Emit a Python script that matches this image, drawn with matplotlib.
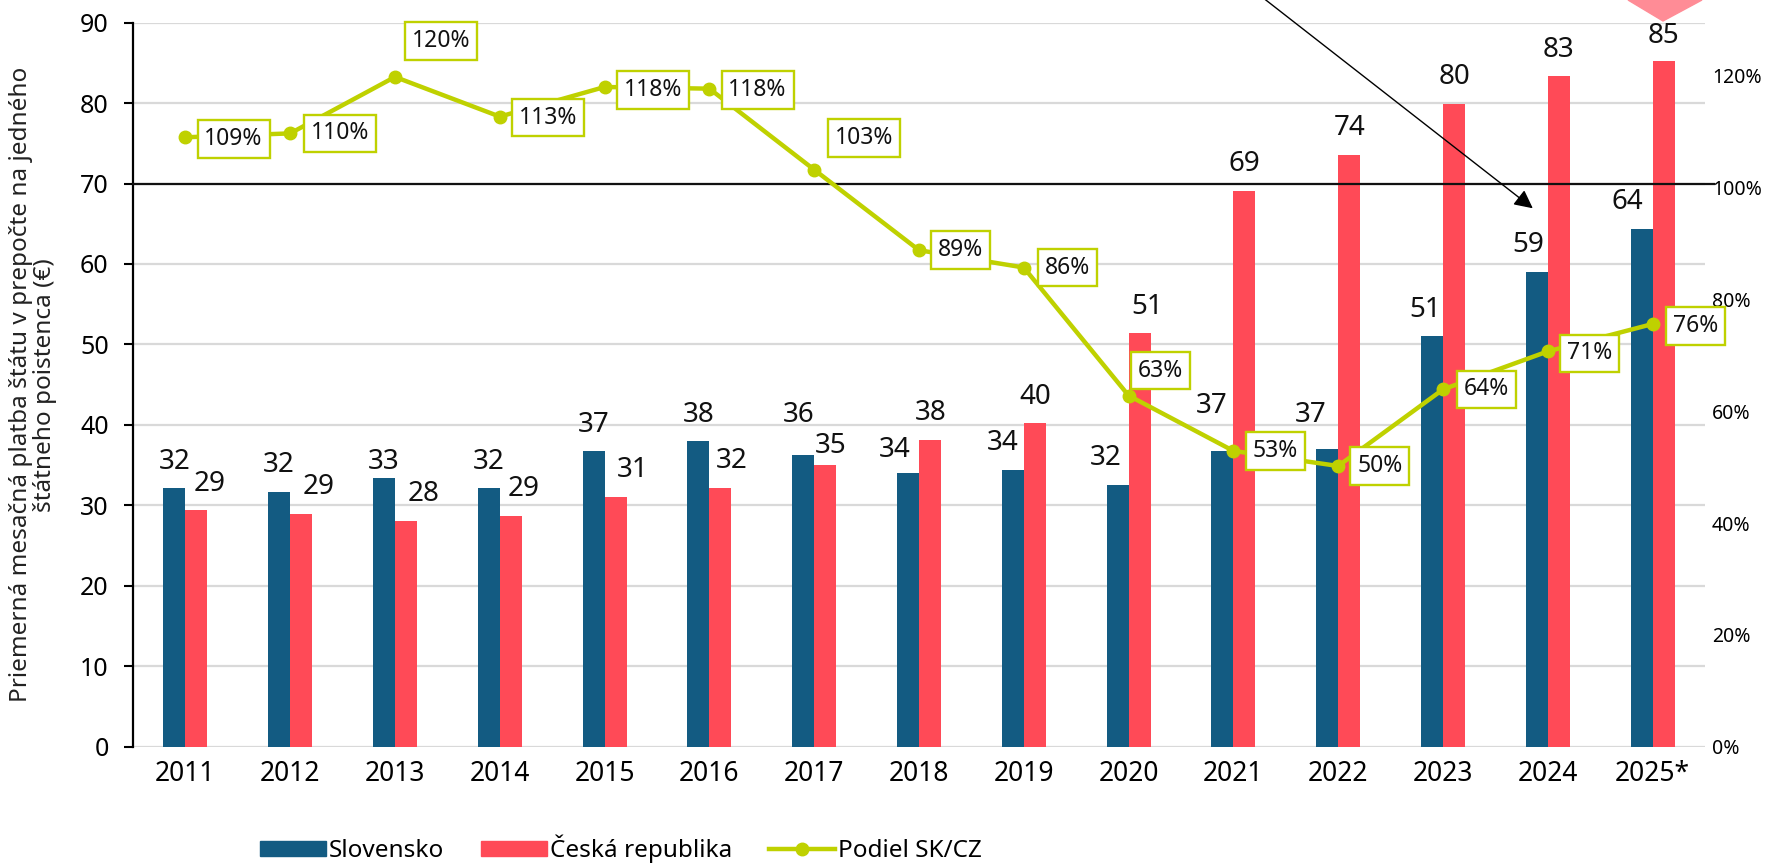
import matplotlib
matplotlib.use("Agg")
import matplotlib.pyplot as plt
from matplotlib.patches import Patch, Polygon
from matplotlib.lines import Line2D
import numpy as np

plt.rcParams['font.family'] = ['Noto Sans', 'DejaVu Sans']

# data
years = ["2011", "2012", "2013", "2014", "2015", "2016", "2017", "2018",
         "2019", "2020", "2021", "2022", "2023", "2024", "2025*"]
slovensko = [32.2, 31.6, 33.4, 32.2, 36.75, 38.0, 36.25, 34.0, 34.4, 32.5,
             36.7, 37.0, 51.05, 59.05, 64.4]
cesko = [29.45, 28.9, 28.0, 28.7, 31.0, 32.2, 35.0, 38.1, 40.2, 51.4,
         69.1, 73.55, 79.9, 83.4, 85.2]
podiel = [1.09, 1.097, 1.198, 1.127, 1.18, 1.177, 1.032, 0.888, 0.857, 0.628,
          0.529, 0.502, 0.639, 0.707, 0.756]
left_ticks = [0, 10, 20, 30, 40, 50, 60, 70, 80, 90]
right_ticks = [0, 0.2, 0.4, 0.6, 0.8, 1.0, 1.2]

# label placement (pixels), the original labels were moved by hand
sk_dx = [0, 0, 0, 0, 0, 0, -5, -13, -10, -12, -11, -17, -7, -9, -14]
sk_dy = [26, 27, 16, 26, 26, 26, 40, 23, 27, 27, 45, 34, 26, 27, 27]
cz_dx = [13, 17, 18, 13, 17, 11, 5, 1, 0, 8, 0, 0, 0, 0, 0]
cz_dy = [26, 27, 27, 27, 27, 27, 19, 27, 26, 26, 27, 27, 27, 26, 25]
pod_dx = [13, 15, 11, 13, 13, 13, 15, 13, 15, 3, 13, 13, 15, 13, 14]
pod_dy = [-2, 0, 36, -1, -3, -1, 32, 0, 0, 25, 0, 0, 0, -2, -2]

BLUE = '#135B82'
RED = '#FF4A57'
GREEN = '#BFD100'
GRID = '#D9D9D9'

W, H = 1779, 865
fig = plt.figure(figsize=(W / 100, H / 100), dpi=100)
ax = fig.add_axes([133 / W, (H - 746.6) / H, (1705 - 133) / W, 723.9 / H])

x = np.arange(len(years))
bw = 0.21
ax.bar(x - bw / 2, slovensko, bw, color=BLUE, zorder=2)
ax.bar(x + bw / 2, cesko, bw, color=RED, zorder=2)

for i in range(len(years)):
    ax.annotate(f"{slovensko[i]:.0f}", (x[i] - bw / 2, slovensko[i]),
                xytext=(sk_dx[i], sk_dy[i]), textcoords='offset pixels',
                ha='center', va='center', fontsize=20, color='#111111', zorder=4)
    ax.annotate(f"{cesko[i]:.0f}", (x[i] + bw / 2, cesko[i]),
                xytext=(cz_dx[i], cz_dy[i]), textcoords='offset pixels',
                ha='center', va='center', fontsize=20, color='#111111', zorder=4)

ax.set_xlim(-0.5, len(years) - 0.5)
ax.set_ylim(0, 90)
ax.set_yticks(left_ticks)
ax.set_xticks(x)
ax.set_xticklabels(years)
ax.tick_params(axis='y', labelsize=18, length=6.5, width=1.5, pad=11, color='black')
ax.tick_params(axis='x', labelsize=19, length=0, pad=10)
ax.grid(axis='y', color=GRID, lw=1.6, zorder=0)
ax.set_axisbelow(True)
for s in ['top', 'right', 'bottom']:
    ax.spines[s].set_visible(False)
ax.spines['left'].set_linewidth(1.6)

# black reference line at 100 %
ax.plot([0, 1.006], [70, 70], color='#111111', lw=1.6,
        transform=ax.get_yaxis_transform(), clip_on=False, zorder=3)

# share on secondary axis
ax2 = ax.twinx()
ax2.set_ylim(0, 1.295)
ax2.set_yticks(right_ticks)
ax2.set_yticklabels([f"{t * 100:.0f}%" for t in right_ticks])
ax2.tick_params(axis='y', labelsize=14, length=0, pad=5)
for s in ax2.spines.values():
    s.set_visible(False)
ax2.plot(x, podiel, color=GREEN, lw=3.2, marker='o', markersize=9, zorder=5)
for i in range(len(years)):
    ax2.annotate(f"{podiel[i] * 100:.0f}%", (x[i], podiel[i]),
                 xytext=(pod_dx[i] + 6, pod_dy[i]), textcoords='offset pixels',
                 ha='left', va='center', fontsize=16.5, color='#111111', zorder=6,
                 bbox=dict(boxstyle='square,pad=0.3', fc='white', ec=GREEN, lw=1.7))

fig.text(33 / W, 1 - 384.7 / H,
         "Priemerná mesačná platba štátu v prepočte na jedného\nštátneho poistenca (€)",
         rotation=90, ha='center', va='center', multialignment='center',
         fontsize=17.5, linespacing=0.98, color='#222222')

# arrow and cut-off shape at the top
ax2.annotate('', xy=(1535, H - 210), xytext=(1253, H + 10),
             xycoords='figure pixels', textcoords='figure pixels',
             arrowprops=dict(arrowstyle='-|>', color='black', lw=1, mutation_scale=28),
             annotation_clip=False, zorder=7)
fig.add_artist(Polygon([(1628 / W, 1), (1702 / W, 1), (1663 / W, 1 - 21 / H)],
                       closed=True, transform=fig.transFigure, color='#FF8C96'))

handles = [Patch(color=BLUE), Patch(color=RED),
           Line2D([], [], color=GREEN, lw=3.2, marker='o', markersize=9)]
fig.legend(handles, ["Slovensko", "Česká republika", "Podiel SK/CZ"],
           loc='center', bbox_to_anchor=(621 / W, 1 - 849 / H), ncol=3,
           frameon=False, fontsize=17.5, handlelength=2.7, handleheight=0.6,
           handletextpad=0.15, columnspacing=1.5)

fig.savefig("out.png", dpi=100)
